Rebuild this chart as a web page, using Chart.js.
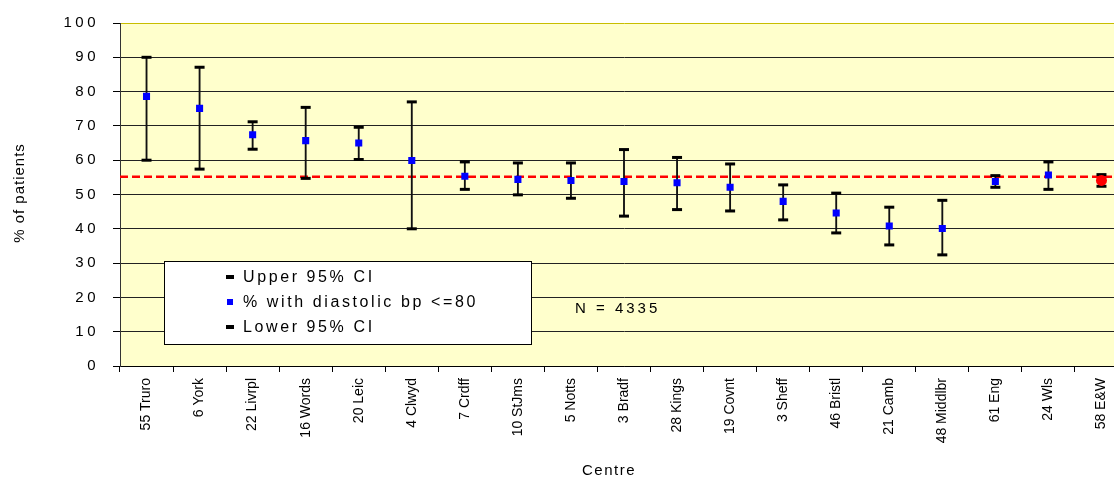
<!DOCTYPE html>
<html>
<head>
<meta charset="utf-8">
<script src="https://cdn.jsdelivr.net/npm/chart.js@4/dist/chart.umd.min.js"></script>
<style>
html,body{margin:0;padding:0;overflow:hidden;background:#ffffff;}
#wrap{width:1136px;height:483px;}
</style>
</head>
<body>
<div id="wrap"><canvas id="c" width="1136" height="483"></canvas></div>
<script>
// ---- data ----
const categories = ['55 Truro','6 York','22 Livrpl','16 Words','20 Leic','4 Clwyd','7 Crdff','10 StJms','5 Notts','3 Bradf','28 Kings','19 Covnt','3 Sheff','46 Bristl','21 Camb','48 Middlbr','61 Eng','24 Wls','58 E&W'];
const meanValues = [78.6, 75.1, 67.4, 65.7, 65.0, 59.9, 55.3, 54.4, 54.1, 53.8, 53.4, 52.1, 48.0, 44.6, 40.8, 40.1, 53.8, 55.7, 54.1];
const upperCI    = [90.0, 87.1, 71.2, 75.4, 69.6, 77.0, 59.5, 59.2, 59.2, 63.1, 60.8, 58.9, 52.8, 50.4, 46.3, 48.3, 55.5, 59.5, 55.8];
const lowerCI    = [60.0, 57.4, 63.2, 54.7, 60.2, 40.0, 51.5, 49.9, 48.9, 43.7, 45.6, 45.2, 42.6, 38.8, 35.3, 32.4, 52.1, 51.5, 52.4];
const overallCategory = '58 E&W';
const referenceValue = 55.2;
const yTickValues = [0, 10, 20, 30, 40, 50, 60, 70, 80, 90, 100];
const seriesLabels = ['Upper 95% CI', '% with diastolic bp <=80', 'Lower 95% CI'];
const noteText = 'N = 4335';
const xTitle = 'Centre';
const yTitle = '% of patients';

// ---- styles ----
const FONT = '"Liberation Sans", Arial, sans-serif';
const BLUE = '#0000ff';
const RED = '#ff0000';
const isOverall = categories.map(c => c === overallCategory);

const decorPlugin = {
  id: 'decor',
  beforeDraw(chart) {
    const {ctx, chartArea: a} = chart;
    ctx.save();
    ctx.fillStyle = '#ffffcc';
    ctx.fillRect(a.left, a.top, a.right - a.left, a.bottom - a.top);
    ctx.restore();
    ctx.letterSpacing = '3.5px';
  },
  beforeDatasetsDraw(chart) {
    const {ctx, chartArea: a, scales} = chart;
    const y = scales.y.getPixelForValue(referenceValue);
    ctx.save();
    ctx.strokeStyle = RED;
    ctx.lineWidth = 2.5;
    ctx.setLineDash([8, 4]);
    ctx.beginPath();
    ctx.moveTo(a.left, y);
    ctx.lineTo(a.right, y);
    ctx.stroke();
    ctx.restore();
    ctx.letterSpacing = '0px';
  },
  afterDraw(chart) {
    const {ctx} = chart;
    ctx.save();
    // legend box
    const lx = 164.5, ly = 261.5, lw = 367, lh = 83;
    ctx.fillStyle = '#ffffff';
    ctx.fillRect(lx, ly, lw, lh);
    ctx.strokeStyle = '#000';
    ctx.lineWidth = 1;
    ctx.strokeRect(lx, ly, lw, lh);
    const rowsY = [277, 302, 327];
    const kinds = ['dash', 'square', 'dash'];
    ctx.font = '16px ' + FONT;
    ctx.textBaseline = 'middle';
    ctx.textAlign = 'left';
    ctx.letterSpacing = '2.6px';
    seriesLabels.forEach((lab, i) => {
      const yy = rowsY[i];
      if (kinds[i] === 'dash') {
        ctx.fillStyle = '#000';
        ctx.fillRect(226, yy - 2, 8, 4);
      } else {
        ctx.fillStyle = BLUE;
        ctx.fillRect(227, yy - 3, 6, 6);
      }
      ctx.fillStyle = '#000';
      ctx.fillText(lab, 243, yy + 1);
    });
    // note
    ctx.font = '15px ' + FONT;
    ctx.letterSpacing = '3px';
    ctx.fillText(noteText, 575, 309);
    // axis titles
    ctx.font = '15px ' + FONT;
    ctx.letterSpacing = '1.5px';
    ctx.textAlign = 'center';
    ctx.fillText(xTitle, 609, 471);
    ctx.translate(20, 193);
    ctx.rotate(-Math.PI / 2);
    ctx.letterSpacing = '1px';
    ctx.fillText(yTitle, 0, 0);
    ctx.restore();
    ctx.letterSpacing = '0px';
  }
};

const chart = new Chart(document.getElementById('c'), {
  type: 'bar',
  data: {
    labels: categories,
    datasets: [
      {
        type: 'bar',
        label: 'range',
        data: categories.map((_, i) => [lowerCI[i], upperCI[i]]),
        backgroundColor: '#111',
        borderWidth: 0,
        barThickness: 1.2,
        order: 3
      },
      {
        type: 'line',
        label: seriesLabels[0],
        data: upperCI,
        showLine: false,
        pointStyle: 'line',
        pointRadius: 5,
        pointBorderWidth: 3,
        pointBorderColor: '#000',
        pointBackgroundColor: '#000',
        order: 2
      },
      {
        type: 'line',
        label: seriesLabels[2],
        data: lowerCI,
        showLine: false,
        pointStyle: 'line',
        pointRadius: 5,
        pointBorderWidth: 3,
        pointBorderColor: '#000',
        pointBackgroundColor: '#000',
        order: 2
      },
      {
        type: 'line',
        label: seriesLabels[1],
        data: meanValues,
        showLine: false,
        pointStyle: isOverall.map(o => o ? 'circle' : 'rect'),
        pointRadius: isOverall.map(o => o ? 5.5 : 5),
        pointBackgroundColor: isOverall.map(o => o ? RED : BLUE),
        pointBorderColor: isOverall.map(o => o ? RED : BLUE),
        pointBorderWidth: 0,
        order: 1
      }
    ]
  },
  options: {
    responsive: false,
    animation: false,
    events: [],
    layout: {padding: {top: 22, left: 0, right: 0, bottom: 0}},
    plugins: {legend: {display: false}, tooltip: {enabled: false}},
    scales: {
      x: {
        offset: true,
        grid: {offset: true, drawOnChartArea: false, drawTicks: true, tickLength: 6, color: '#000', z: 0},
        border: {color: '#000', width: 1},
        ticks: {minRotation: 90, maxRotation: 90, autoSkip: false, color: '#000', padding: 6, font: {family: FONT, size: 14}, z: 1},
        afterFit(s) { s.height = 117; }
      },
      y: {
        min: 0,
        max: 100,
        afterBuildTicks(s) { s.ticks = yTickValues.map(v => ({value: v})); },
        ticks: {color: '#000', padding: 14, font: {family: FONT, size: 15}},
        grid: {
          color: c => (c.tick && c.tick.value === 100) ? '#c8be00' : '#222',
          tickColor: '#000',
          tickLength: 7,
          lineWidth: 1
        },
        border: {color: '#333'},
        afterFit(s) { s.width = 120; }
      }
    }
  },
  plugins: [decorPlugin]
});
</script>
</body>
</html>
